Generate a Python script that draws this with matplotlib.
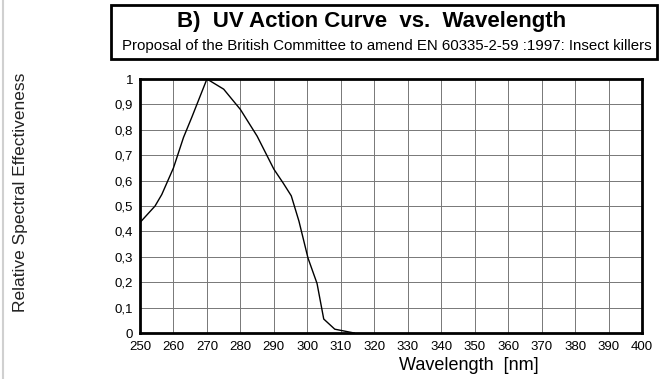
import matplotlib
matplotlib.use("Agg")
import matplotlib.pyplot as plt
from matplotlib.patches import Rectangle
from matplotlib.lines import Line2D

plt.rcParams['font.family'] = ['Liberation Sans', 'DejaVu Sans']

# curve
wavelength = [250, 254.5, 256.5, 260, 263, 265.5, 270, 272.5, 275, 280,
              285, 290, 292.8, 295.2, 297.5, 300.2, 302.9, 304.9, 308.2, 314]
effectiveness = [0.435, 0.50, 0.545, 0.65, 0.77, 0.85, 1.0, 0.98, 0.96, 0.88,
                 0.775, 0.645, 0.59, 0.54, 0.44, 0.295, 0.195, 0.055, 0.015, 0.0]

x_ticks = list(range(250, 401, 10))
y_ticks = [i / 10 for i in range(11)]
y_tick_labels = ["0", "0,1", "0,2", "0,3", "0,4", "0,5", "0,6", "0,7", "0,8", "0,9", "1"]

title = "B)  UV Action Curve  vs.  Wavelength"
subtitle = "Proposal of the British Committee to amend EN 60335-2-59 :1997: Insect killers"

W, H = 659, 379
fig = plt.figure(figsize=(W / 100, H / 100), dpi=100)
ax = fig.add_axes([140 / W, 1 - 333 / H, (642 - 140) / W, (333 - 79) / H])

ax.plot(wavelength, effectiveness, color="black", lw=1.0)
ax.set_xlim(250, 400)
ax.set_ylim(0, 1)
ax.set_xticks(x_ticks)
ax.set_xticklabels([str(t) for t in x_ticks], fontsize=9.5)
ax.set_yticks(y_ticks)
ax.set_yticklabels(y_tick_labels, fontsize=9.5)
ax.tick_params(axis="y", length=0, pad=5)
ax.tick_params(axis="x", length=0, pad=6)
ax.grid(True, color="#777777", lw=0.7)
for s in ax.spines.values():
    s.set_linewidth(2)
    s.set_color("black")

fig.text(469 / W, 1 - 366 / H, "Wavelength  [nm]", ha="center", va="center",
         fontsize=13)
fig.text(21 / W, 1 - 192 / H, "Relative Spectral Effectiveness", rotation=90,
         ha="center", va="center", fontsize=12.5, color="#222222")

# title box
fig.patches.append(Rectangle((111 / W, 1 - 59 / H), (657 - 111) / W, 54 / H,
                             transform=fig.transFigure, fill=False,
                             edgecolor="black", lw=2))
fig.text(372 / W, 1 - 22 / H, title, ha="center", va="center",
         fontsize=16, fontweight="bold")
fig.text(387 / W, 1 - 46 / H, subtitle, ha="center", va="center", fontsize=10.8)

# thin gray edge on the left
fig.lines.append(Line2D([3 / W, 3 / W], [0, 1], transform=fig.transFigure,
                        color="#d0d0d0", lw=1.5))

fig.savefig("out.png", dpi=100)
